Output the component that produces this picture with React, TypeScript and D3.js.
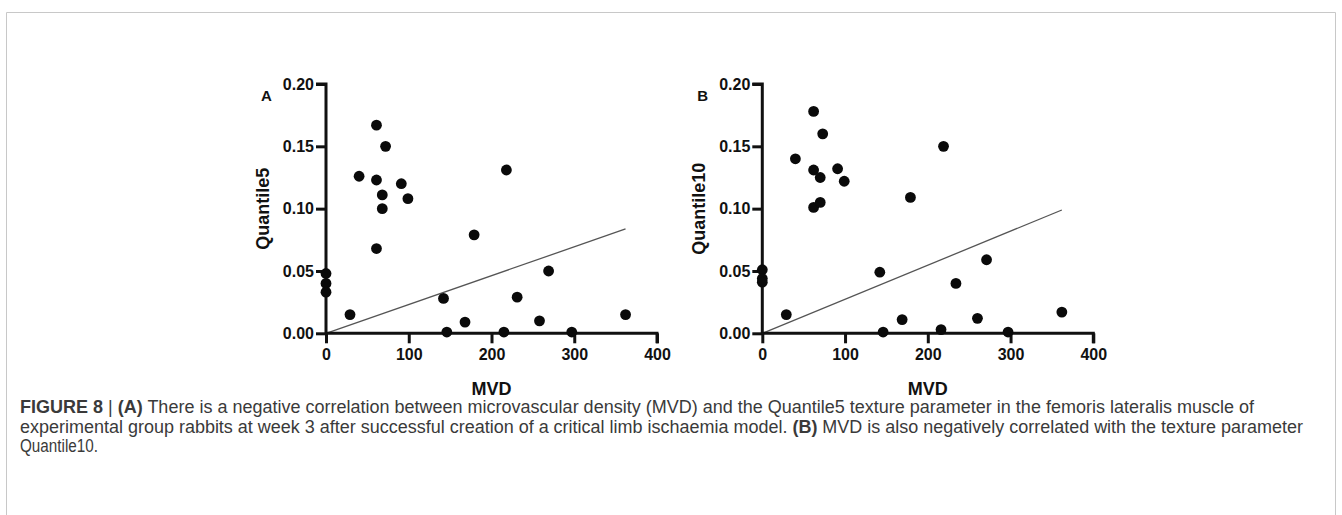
import React, { useEffect, useRef } from 'react';
import * as d3 from 'd3';

// panel A: MVD vs Quantile5
const mvdA = [0, 0, 0, 29, 61, 61, 72, 40, 61, 68, 68, 91, 99, 218, 179, 269, 142, 231, 168, 258, 146, 215, 297, 362];
const quantile5 = [0.048, 0.040, 0.033, 0.015, 0.068, 0.167, 0.150, 0.126, 0.123, 0.111, 0.100, 0.120, 0.108, 0.131, 0.079, 0.050, 0.028, 0.029, 0.009, 0.010, 0.001, 0.001, 0.001, 0.015];
const fitAx = [0, 362];
const fitAy = [0, 0.0837];

// panel B: MVD vs Quantile10
const mvdB = [0, 0, 0, 29, 142, 146, 169, 62, 73, 40, 62, 70, 91, 99, 62, 70, 179, 219, 271, 234, 260, 362, 216, 297];
const quantile10 = [0.051, 0.044, 0.041, 0.015, 0.049, 0.001, 0.011, 0.178, 0.160, 0.140, 0.131, 0.125, 0.132, 0.122, 0.101, 0.105, 0.109, 0.150, 0.059, 0.040, 0.012, 0.017, 0.003, 0.001];
const fitBx = [0, 362];
const fitBy = [0, 0.0989];

const xTicks = [0, 100, 200, 300, 400];
const yTicks = [0, 0.05, 0.10, 0.15, 0.20];

const panels = [
  { letter: 'A', yLabel: 'Quantile5', xs: mvdA, ys: quantile5, fitX: fitAx, fitY: fitAy, left: 326 },
  { letter: 'B', yLabel: 'Quantile10', xs: mvdB, ys: quantile10, fitX: fitBx, fitY: fitBy, left: 762.3 },
];

const captionLines = [
  [['FIGURE 8', true], [' | ', false], ['(A)', true], [' There is a negative correlation between microvascular density (MVD) and the Quantile5 texture parameter in the femoris lateralis muscle of', false]],
  [['experimental group rabbits at week 3 after successful creation of a critical limb ischaemia model. ', false], ['(B)', true], [' MVD is also negatively correlated with the texture parameter', false]],
  [['Quantile10.', false]],
];
// measured line widths in the figure
const captionWidths = [1234, 1283, 78];

const W = 1342;
const H = 515;
const plotTop = 84;
const plotBottom = 333.3;
const plotWidth = 331;

export default function App() {
  const ref = useRef<SVGSVGElement>(null);

  useEffect(() => {
    const svg = d3.select(ref.current);
    svg.selectAll('*').remove();

    // figure frame
    svg.append('path')
      .attr('d', `M6.5,${H} V12.5 H1335.5 V${H}`)
      .attr('fill', 'none')
      .attr('stroke', '#c8c8c8')
      .attr('stroke-width', 1);

    const y = d3.scaleLinear().domain([0, 0.2]).range([plotBottom, plotTop]);

    panels.forEach(p => {
      const x = d3.scaleLinear().domain([0, 400]).range([p.left, p.left + plotWidth]);
      const g = svg.append('g');

      // regression line
      g.append('path')
        .attr('d', d3.line<number>()((p.fitX.map((v, i) => [x(v), y(p.fitY[i])]) as [number, number][])))
        .attr('stroke', '#555')
        .attr('stroke-width', 1.3)
        .attr('fill', 'none');

      const yAxis = g.append('g')
        .attr('transform', `translate(${x(0)},0)`)
        .call(d3.axisLeft(y).tickValues(yTicks).tickFormat(d3.format('.2f')).tickSize(10).tickPadding(2));
      const xAxis = g.append('g')
        .attr('transform', `translate(0,${y(0)})`)
        .call(d3.axisBottom(x).tickValues(xTicks).tickSize(10).tickPadding(5));

      [yAxis, xAxis].forEach(a => {
        a.select('.domain').attr('stroke', '#111').attr('stroke-width', 3);
        a.selectAll('.tick line').attr('stroke', '#111').attr('stroke-width', 3);
        a.selectAll('.tick text')
          .attr('fill', '#111')
          .attr('font-family', 'Liberation Sans, Arial, sans-serif')
          .attr('font-weight', 'bold')
          .attr('font-size', 16);
      });
      yAxis.select('.domain').attr('d', `M0,${y(0)}V${y(0.2)}H-10`);
      xAxis.select('.domain').attr('d', `M${x(0)},0H${x(400)}V10`);

      // points
      g.append('g')
        .selectAll('circle')
        .data(p.xs.map((v, i) => [v, p.ys[i]]))
        .join('circle')
        .attr('cx', d => x(d[0]))
        .attr('cy', d => y(d[1]))
        .attr('r', 5.4)
        .attr('fill', '#0a0a0a');

      // labels
      g.append('text')
        .attr('x', x(200))
        .attr('y', 395)
        .attr('text-anchor', 'middle')
        .attr('font-family', 'Liberation Sans, Arial, sans-serif')
        .attr('font-weight', 'bold')
        .attr('font-size', 18)
        .attr('fill', '#111')
        .text('MVD');

      g.append('text')
        .attr('transform', `translate(${x(0) - 57},${(plotTop + plotBottom) / 2}) rotate(-90)`)
        .attr('text-anchor', 'middle')
        .attr('font-family', 'Liberation Sans, Arial, sans-serif')
        .attr('font-weight', 'bold')
        .attr('font-size', 18)
        .attr('fill', '#111')
        .text(p.yLabel);

      g.append('text')
        .attr('x', x(0) - 65)
        .attr('y', 101)
        .attr('font-family', 'Liberation Sans, Arial, sans-serif')
        .attr('font-weight', 'bold')
        .attr('font-size', 15)
        .attr('fill', '#111')
        .text(p.letter);
    });

    // caption
    const caption = svg.append('g')
      .attr('font-family', '"Liberation Sans", Arial, sans-serif')
      .attr('font-size', 17.5)
      .attr('fill', '#3a3a3a');
    captionLines.forEach((line, i) => {
      const t = caption.append('text')
        .attr('x', 20)
        .attr('y', 413 + i * 19.5)
        .attr('textLength', captionWidths[i])
        .attr('lengthAdjust', 'spacingAndGlyphs');
      line.forEach(([s, bold]) => {
        t.append('tspan')
          .attr('font-weight', bold ? 'bold' : 'normal')
          .text(s as string);
      });
    });
  }, []);

  return (
    <svg ref={ref} width={W} height={H} style={{ position: 'absolute', left: 0, top: 0, background: '#fff' }} />
  );
}
